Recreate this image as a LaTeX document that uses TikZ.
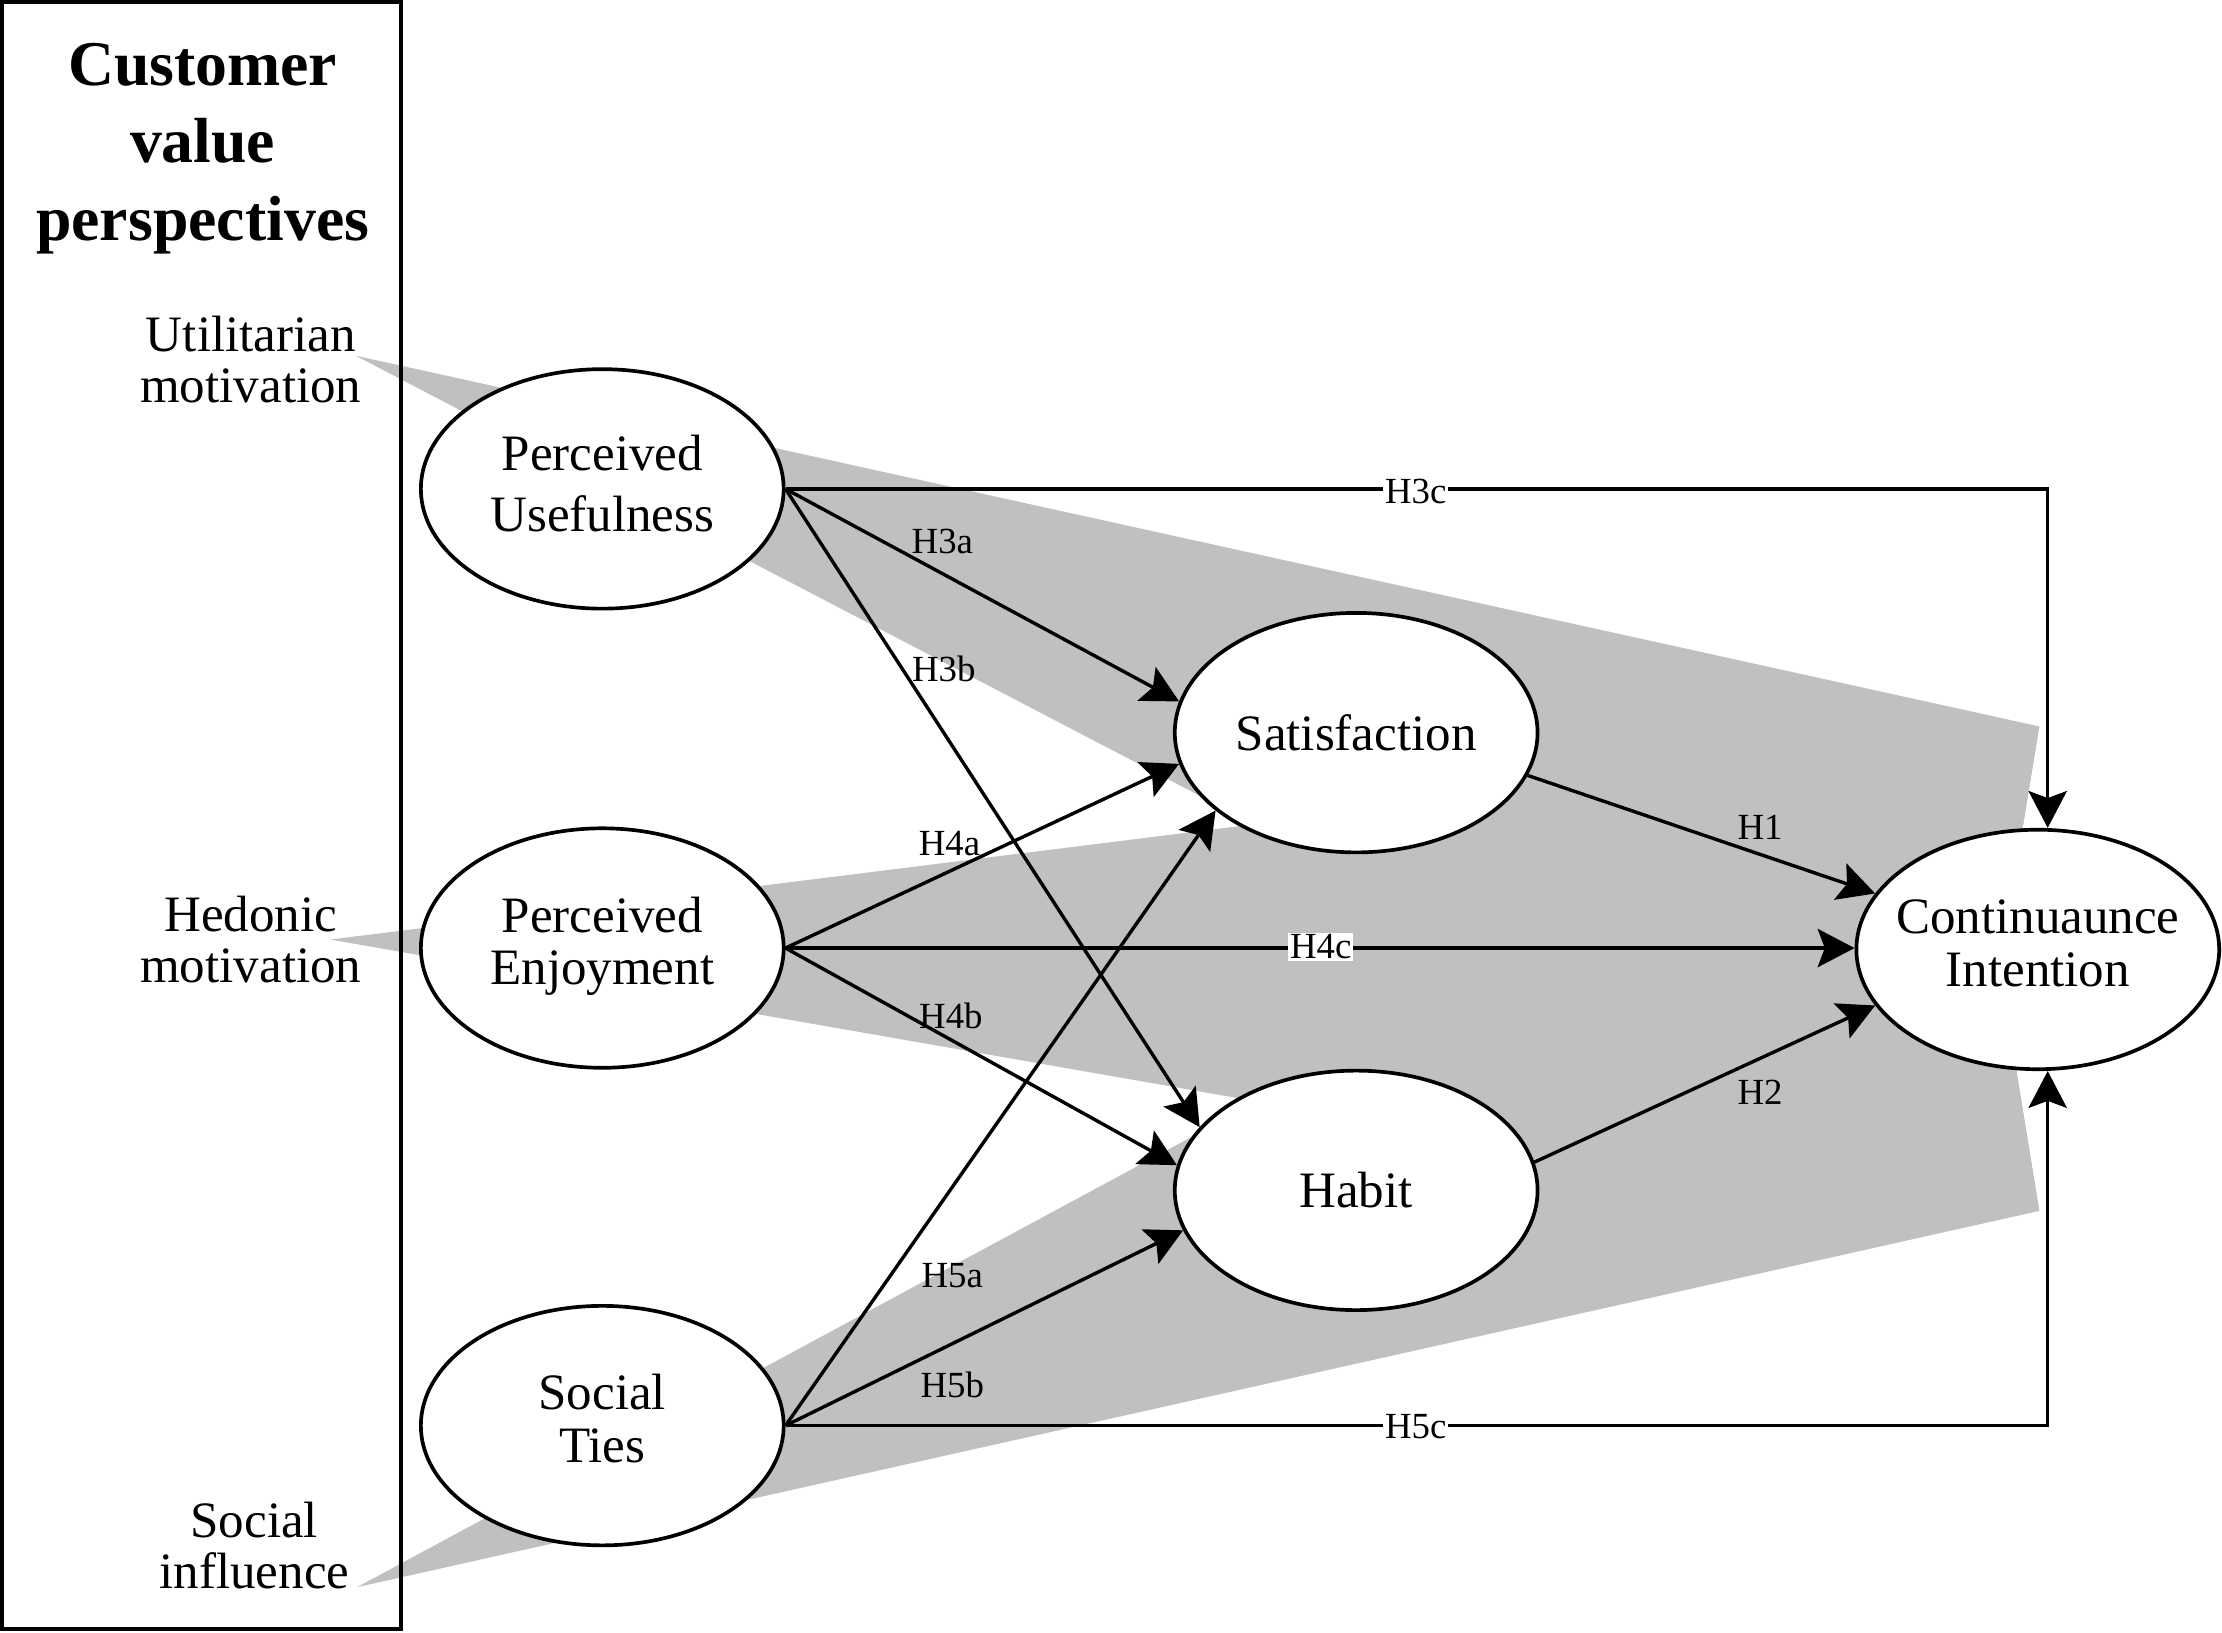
\documentclass[tikz,border=0pt]{standalone}
\usepackage{fontspec}
\setmainfont{Liberation Serif}
\usetikzlibrary{shapes.geometric,arrows.meta,calc}
\definecolor{fan}{HTML}{C0C0C0}

% two centred lines that do not widen the ellipse around them
\newcommand\twolines[2]{\makebox[0pt]{\begin{tabular}{@{}c@{}}#1\\#2\end{tabular}}}

\begin{document}
\begin{tikzpicture}[x=0.5pt,y=-0.5pt,
  construct/.style={ellipse,draw,line width=1.3pt,fill=white,
    minimum width=128pt,minimum height=84.5pt,inner sep=0pt,
    font=\fontsize{18}{18.5}\selectfont},
  motive/.style={align=center,inner sep=0pt,anchor=base,
    font=\fontsize{18}{18}\selectfont},
  link/.style={line width=1.2pt,
    -{Stealth[length=13pt,width=13.5pt,inset=2.5pt]}},
  hyp/.style={inner sep=0.6pt,font=\fontsize{13}{13}\selectfont},
  hypbox/.style={hyp,fill=white},
]
\useasboundingbox (0,0) rectangle (1568,1152);

% grey fans from the three motivations towards continuance intention
\coordinate (apexA) at (251,251);
\coordinate (apexB) at (233,663);
\coordinate (apexC) at (252,1120);
\coordinate (TR)    at (1439,512.6);
\coordinate (notch) at (1411,683);
\coordinate (BR)    at (1439,854.5);
\coordinate (pA)    at (930,605);
\coordinate (pB)    at (960,790);
\coordinate (pC)    at (960,738);
\fill[fan] (apexA) -- (TR) -- (notch) -- (BR) -- (pA) -- cycle;
\fill[fan] (apexB) -- (TR) -- (notch) -- (BR) -- (pB) -- cycle;
\fill[fan] (apexC) -- (pC) -- (TR) -- (notch) -- (BR) -- cycle;

% customer value panel (multi-line nodes sit on the baseline of their last line)
\draw[line width=1.4pt] (1.5,1.5) rectangle (283,1149.5);
\node[anchor=base,align=center,inner sep=0pt,
  font=\fontsize{22.5}{27.5}\selectfont\bfseries] (title) at (143,170)
  {Customer\\value\\perspectives};
\node[motive] (util) at (177,284) {Utilitarian\\motivation};
\node[motive] (hedo) at (177,693.5) {Hedonic\\motivation};
\node[motive] (soci) at (179.5,1121) {Social\\influence};

% constructs
\node[construct,font=\fontsize{18}{21.5}\selectfont] (pu) at (425,345)
  {\twolines{Perceived}{Usefulness}};
\node[construct] (pe) at (425,669) {\twolines{Perceived}{Enjoyment}};
\node[construct] (st) at (425,1006) {\twolines{Social}{Ties}};
\node[construct] (sat) at (957,517) {\makebox[0pt]{Satisfaction}};
\node[construct] (hab) at (957,840) {\makebox[0pt]{Habit}};
\node[construct] (ci) at (1438,670) {\twolines{Continuaunce}{Intention}};

\coordinate (ciT) at ($(ci.north)+(7,0)$);
\coordinate (ciB) at ($(ci.south)+(7,0)$);

% hypothesised paths
\draw[link] (pu.east) -- (sat.170);
\draw[link] (pu.east) -- (hab.158);
\draw[link] (pu.east) -| (ciT);
\draw[link] (pe.east) -- (sat.190.5);
\draw[link] (pe.east) -- (hab.172.7);
\draw[link] (pe.east) -- (pe.east -| ci.west);
\draw[link] (st.east) -- (sat.209);
\draw[link] (st.east) -- (hab.193.6);
\draw[link] (st.east) -| (ciB);
\draw[link] (sat.346) -- (ci.161);
\draw[link] (hab.9) -- (ci.199);

% path labels
\node[hyp] (h3a) at (665,382) {H3a};
\node[hyp] (h3b) at (666,472) {H3b};
\node[hypbox] (h3c) at (999,347) {H3c};
\node[hyp] (h4a) at (670,595) {H4a};
\node[hyp] (h4b) at (671,717) {H4b};
\node[hypbox] (h4c) at (932,668) {H4c};
\node[hyp] (h5a) at (672,900) {H5a};
\node[hyp] (h5b) at (672,977) {H5b};
\node[hypbox] (h5c) at (999,1007) {H5c};
\node[hyp] (h1) at (1242,584) {H1};
\node[hyp] (h2) at (1242,771) {H2};
\end{tikzpicture}
\end{document}
